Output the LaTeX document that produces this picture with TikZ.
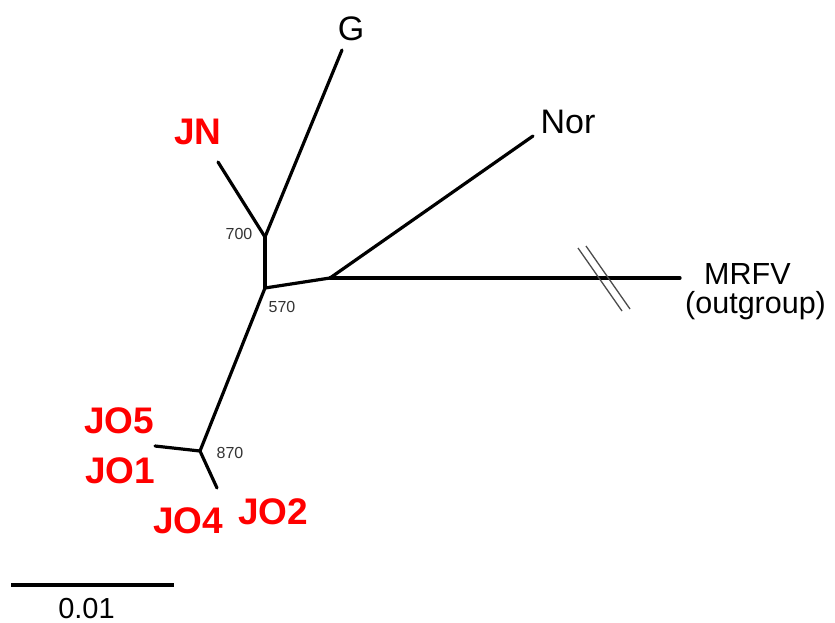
\documentclass[tikz,border=0pt]{standalone}
\usepackage{fontspec}
\setmainfont{Liberation Sans}
\usetikzlibrary{positioning, calc}
\definecolor{taxred}{HTML}{FF0000}
\definecolor{bootgray}{HTML}{333333}

\begin{document}
\begin{tikzpicture}[x=1pt, y=-1pt,
    branch/.style={line width=3.2pt, line cap=round, color=black},
    taxon/.style={font=\fontsize{34}{36}\selectfont, text=black, inner sep=0pt},
    outtaxon/.style={font=\fontsize{30.5}{32}\selectfont, text=black, inner sep=0pt, anchor=west},
    jtaxon/.style={font=\fontsize{37}{40}\selectfont\bfseries, text=taxred, inner sep=0pt},
    boot/.style={font=\fontsize{16}{18}\selectfont, text=bootgray, inner sep=0pt},
    brk/.style={line width=1.3pt, color=black!70},
]
    \useasboundingbox (0,0) rectangle (835,623);

    % internal nodes
    \coordinate (n570) at (265,288);
    \coordinate (n700) at (265,237);
    \coordinate (n870) at (200,451);
    \coordinate (nNor) at (330,278);

    % tips
    \coordinate (tG) at (342,50);
    \coordinate (tJN) at (218,162);
    \coordinate (tNor) at (533,136);
    \coordinate (tMRFV) at (680,278);
    \coordinate (tJOa) at (155,446);
    \coordinate (tJOb) at (217,488);

    % branches
    \draw[branch] (n570) -- (n700);
    \draw[branch] (n700) -- (tG);
    \draw[branch] (n700) -- (tJN);
    \draw[branch] (n570) -- (nNor);
    \draw[branch] (nNor) -- (tNor);
    \draw[branch] (nNor) -- (tMRFV);
    \draw[branch] (n570) -- (n870);
    \draw[branch] (n870) -- (tJOa);
    \draw[branch] (n870) -- (tJOb);

    % break on the outgroup branch
    \draw[brk] (578,248) -- (622,311);
    \draw[brk] (586,246) -- (630,309);

    % labels
    \node[taxon] (G) at (351,29) {G};
    \node[jtaxon] (JN) at (198,132) {JN};
    \node[taxon] (Nor) at (568,122) {Nor};
    \node[outtaxon] (MRFV) at (704,274) {MRFV};
    \node[outtaxon] (outgroup) at (685,306) {(outgroup)};
    \node[jtaxon] (JO5) at (119,421) {JO5};
    \node[jtaxon] (JO1) at (120,471) {JO1};
    \node[jtaxon] (JO4) at (188,521) {JO4};
    \node[jtaxon] (JO2) at (273,512) {JO2};

    % bootstrap values
    \node[boot] (b700) at (239,234) {700};
    \node[boot] (b570) at (282,307) {570};
    \node[boot] (b870) at (230,453) {870};

    % scale bar
    \coordinate (sbL) at (11,585);
    \coordinate (sbR) at (174,585);
    \draw[line width=3.2pt] (sbL) -- (sbR);
    \node[taxon, font=\fontsize{29}{31}\selectfont, below=13pt of $(sbL)!0.5!(sbR)$, xshift=-6pt] (scale) {0.01};
\end{tikzpicture}
\end{document}
